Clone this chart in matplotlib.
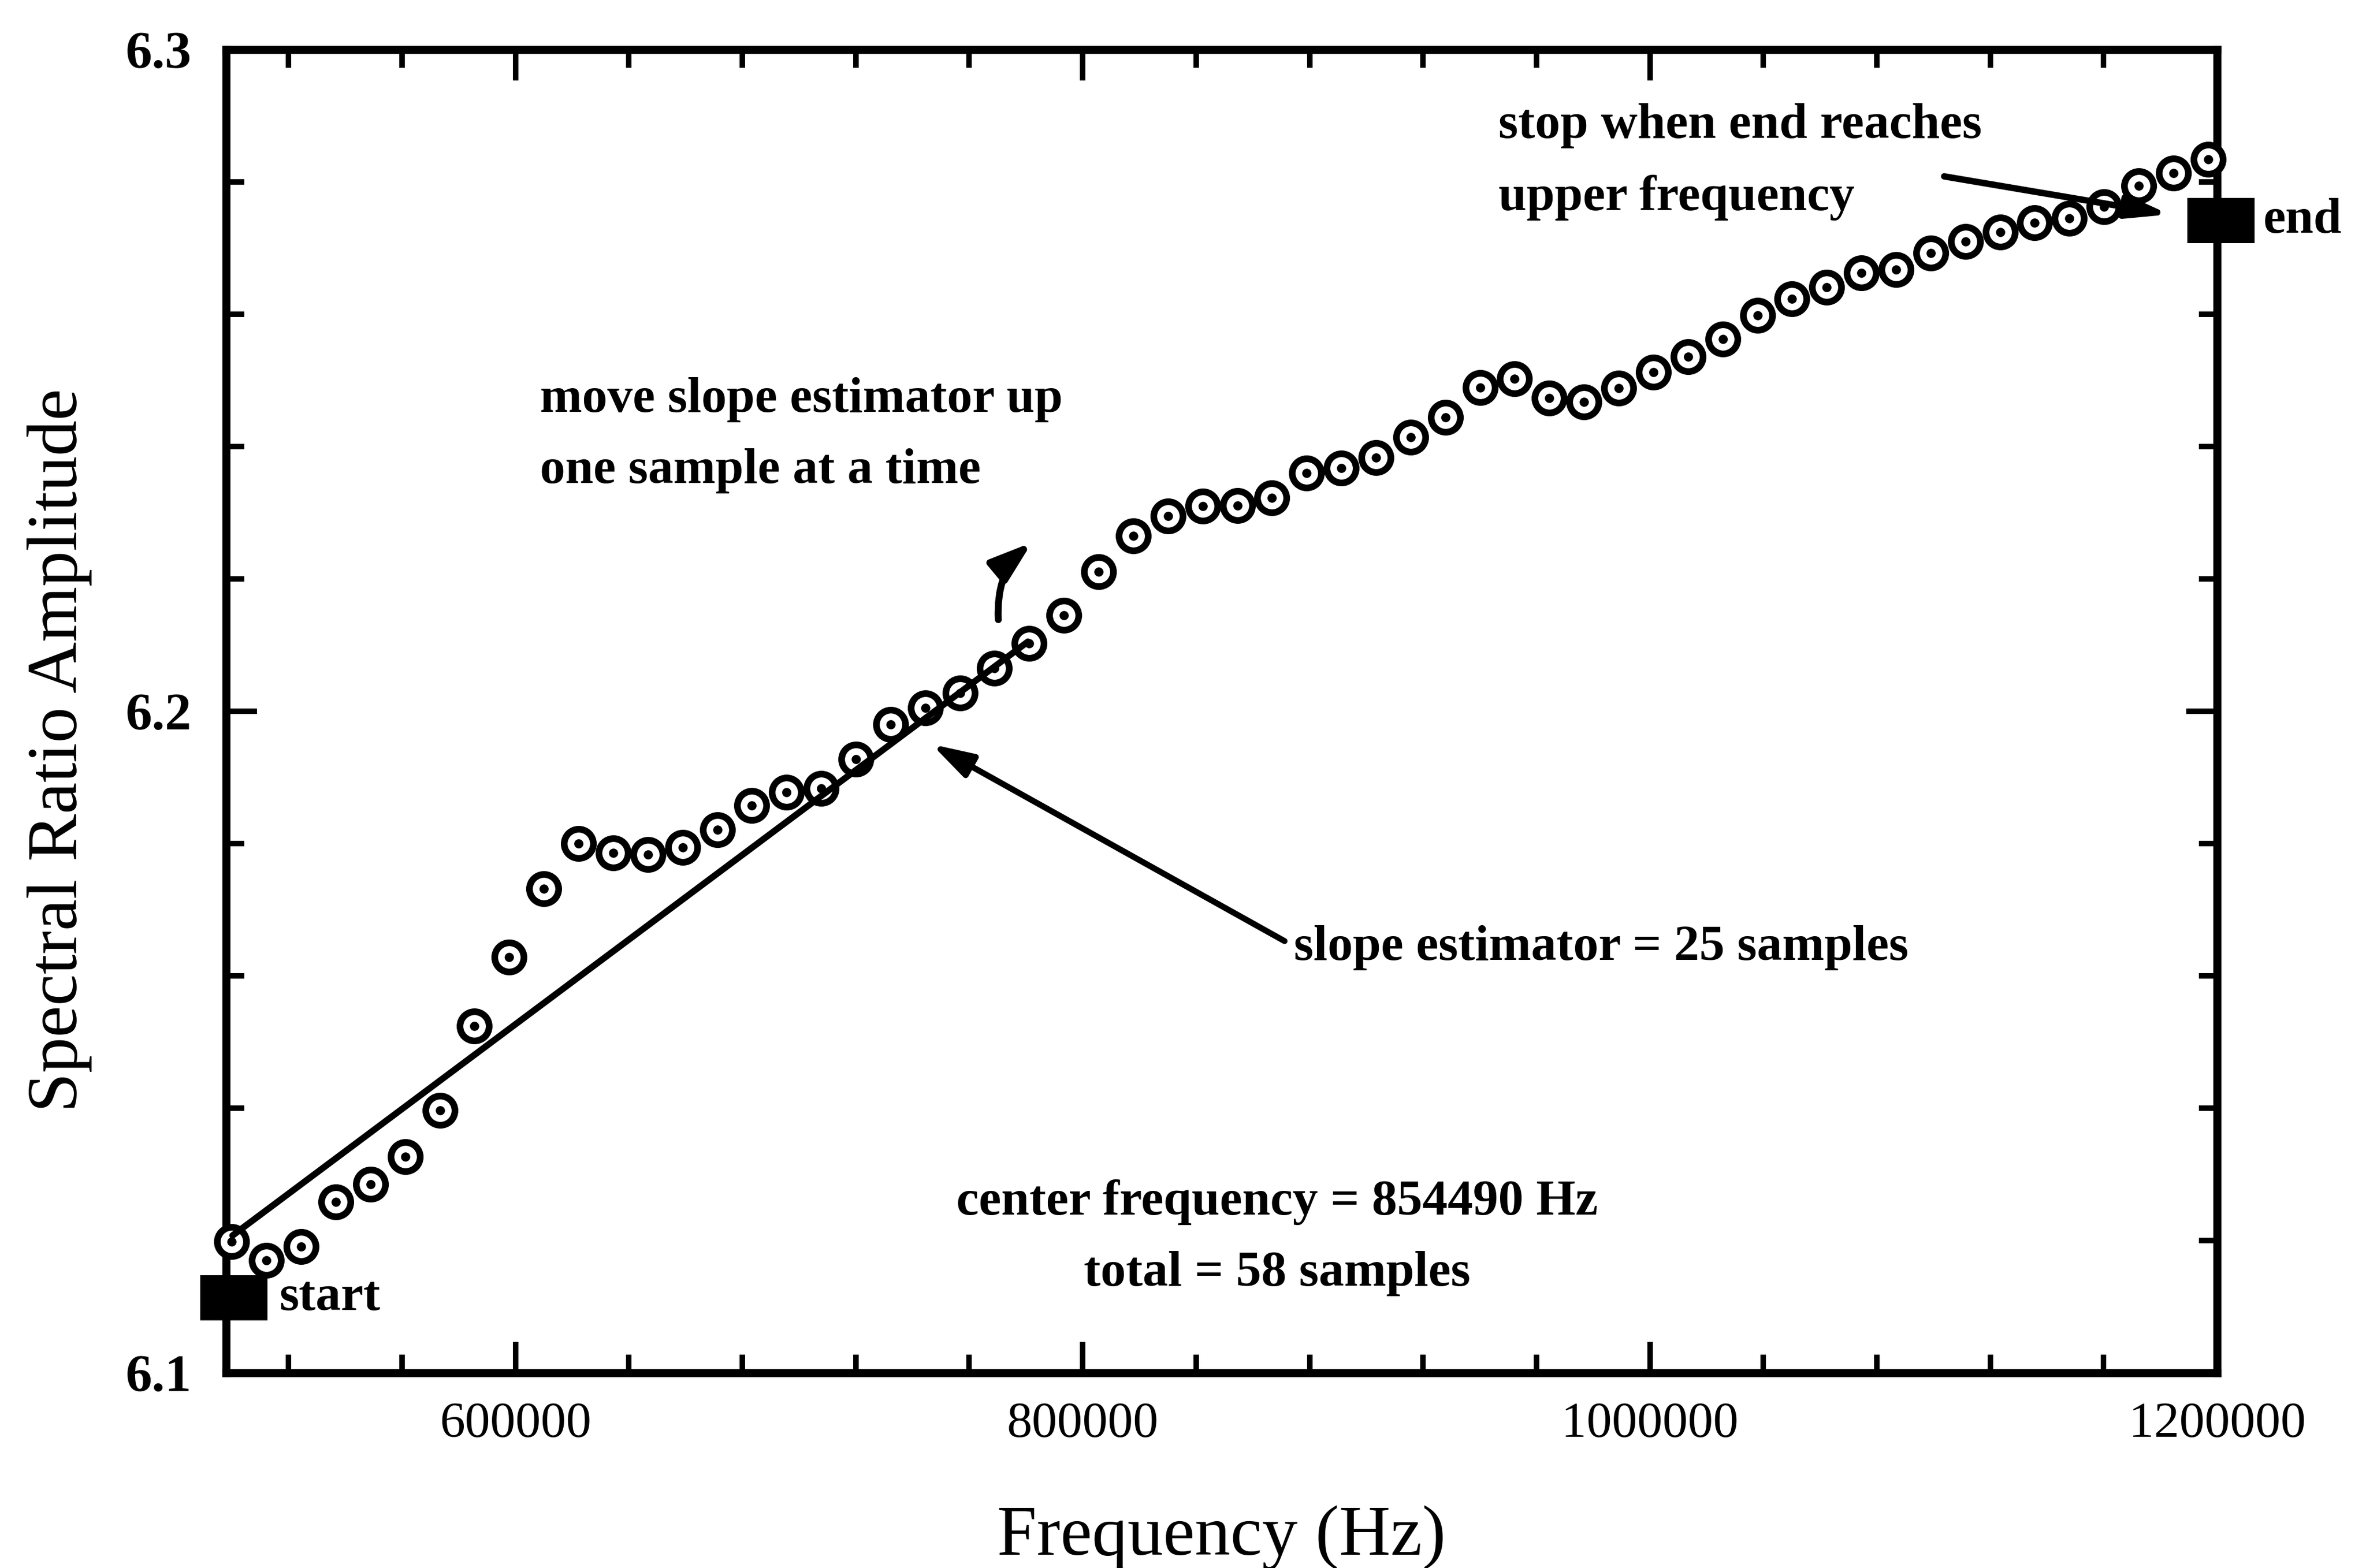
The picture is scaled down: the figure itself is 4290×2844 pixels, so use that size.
import matplotlib
matplotlib.use("Agg")
import matplotlib.pyplot as plt
from matplotlib.ticker import MultipleLocator, FormatStrFormatter
from matplotlib.patches import FancyArrowPatch

plt.rcParams['font.family'] = ['Liberation Serif', 'DejaVu Serif']

# ---------------- data ----------------
freq_hz = [500000, 512225, 524450, 536675, 548900, 561125, 573350, 585575,
           597800, 610025, 622250, 634475, 646700, 658925, 671150, 683375,
           695600, 707825, 720050, 732275, 744500, 756725, 768950, 781175,
           793400, 805625, 817850, 830075, 842300, 854525, 866750, 878975,
           891200, 903425, 915650, 927875, 940100, 952325, 964550, 976775,
           989000, 1001225, 1013450, 1025675, 1037900, 1050125, 1062350,
           1074575, 1086800, 1099025, 1111250, 1123475, 1135700, 1147925,
           1160150, 1172375, 1184600, 1196825]
amplitude = [6.1198, 6.1170, 6.1191, 6.1258, 6.1285, 6.1327, 6.1397, 6.1524,
             6.1628, 6.1732, 6.1800, 6.1786, 6.1783, 6.1794, 6.1821, 6.1857,
             6.1877, 6.1883, 6.1927, 6.1980, 6.2005, 6.2027, 6.2065, 6.2102,
             6.2145, 6.2211, 6.2265, 6.2295, 6.2310, 6.2311, 6.2322, 6.2360,
             6.2367, 6.2383, 6.2414, 6.2444, 6.2489, 6.2502, 6.2473, 6.2467,
             6.2488, 6.2512, 6.2536, 6.2562, 6.2598, 6.2623, 6.2641, 6.2662,
             6.2667, 6.2692, 6.2710, 6.2724, 6.2738, 6.2745, 6.2762, 6.2794,
             6.2813, 6.2834]

# slope estimator line (25-sample fit) endpoints
slope_x = [500240, 780670]
slope_y = [6.12075, 6.2105]

# start / end window markers
window_x = [500720, 1201370]
window_y = [6.11133, 6.27417]
window_labels = ["start", "end"]
window_label_x = [516670, 1216340]

xticks_major = [600000, 800000, 1000000, 1200000]
x_limits = (498000, 1200000)
y_limits = (6.1, 6.3)

# annotation texts and anchor positions (data coords)
txt_move = "move slope estimator up\none sample at a time"
txt_move_pos = (608650, 6.2417)
txt_slope = "slope estimator = 25 samples"
txt_slope_pos = (874470, 6.16425)
txt_center = "center frequency = 854490 Hz\ntotal = 58 samples"
txt_center_pos = (868450, 6.12042)
txt_stop = "stop when end reaches\nupper frequency"
txt_stop_pos = (946620, 6.28304)

# arrows: (tail, head)
arrow_slope = ((871170, 6.16525), (746710, 6.1950))
arrow_stop = ((1103740, 6.28083), (1183180, 6.27508))
arrow_move = ((770240, 6.21383), (782100, 6.2255))

# ---------------- figure ----------------
fig = plt.figure(figsize=(14.3, 9.48), dpi=300)
ax = fig.add_axes([0.0956, 0.1245, 0.8415, 0.8439])

ax.set_xlim(*x_limits)
ax.set_ylim(*y_limits)

# data markers: open circle with center dot
ax.plot(freq_hz, amplitude, linestyle='none', marker='o', markersize=12.7,
        markerfacecolor='white', markeredgecolor='black', markeredgewidth=2.9,
        clip_on=False, zorder=3)
ax.plot(freq_hz, amplitude, linestyle='none', marker='o', markersize=3.0,
        color='black', clip_on=False, zorder=3.1)

# slope estimator line
ax.plot(slope_x, slope_y, color='black', linewidth=2.8, solid_capstyle='round',
        zorder=5)

# start / end boxes
box_verts = [(-1.5, -1), (1.5, -1), (1.5, 1), (-1.5, 1), (-1.5, -1)]
ax.plot(window_x, window_y, linestyle='none', marker=box_verts, markersize=29.5,
        color='black', markeredgewidth=0, clip_on=False, zorder=6)
for lx, ly, lab in zip(window_label_x, window_y, window_labels):
    ax.text(lx, ly, lab, fontsize=22, fontweight='bold', ha='left', va='center',
            clip_on=False)

# annotation texts
LS = 1.75
ax.text(*txt_move_pos, txt_move, fontsize=22, fontweight='bold', ha='left',
        va='center', linespacing=LS)
ax.text(*txt_slope_pos, txt_slope, fontsize=22, fontweight='bold', ha='left',
        va='center')
ax.text(*txt_center_pos, txt_center, fontsize=22, fontweight='bold',
        ha='center', va='center', multialignment='center', linespacing=LS)
ax.text(*txt_stop_pos, txt_stop, fontsize=22, fontweight='bold', ha='left',
        va='center', linespacing=LS)

# arrows
def add_arrow(tail, head, hl, hw, lw, conn="arc3,rad=0"):
    a = FancyArrowPatch(tail, head, arrowstyle=f"-|>,head_length={hl},head_width={hw}",
                        mutation_scale=1, color='black', linewidth=lw,
                        shrinkA=0, shrinkB=0, connectionstyle=conn,
                        capstyle='round', zorder=6)
    ax.add_patch(a)

add_arrow(*arrow_slope, hl=15, hw=4.5, lw=2.6)
add_arrow(*arrow_stop, hl=15, hw=4.0, lw=2.8)
add_arrow(*arrow_move, hl=15, hw=5.0, lw=3.0, conn="arc3,rad=-0.25")

# axes styling
for sp in ax.spines.values():
    sp.set_linewidth(3.5)
ax.xaxis.set_major_locator(MultipleLocator(200000))
ax.xaxis.set_minor_locator(MultipleLocator(40000))
ax.yaxis.set_major_locator(MultipleLocator(0.1))
ax.yaxis.set_minor_locator(MultipleLocator(0.02))
ax.xaxis.set_major_formatter(FormatStrFormatter('%d'))
ax.yaxis.set_major_formatter(FormatStrFormatter('%.1f'))
ax.set_xticks(xticks_major)
ax.tick_params(which='both', direction='in', top=True, right=True, width=2.4)
ax.tick_params(which='major', length=13.5)
ax.tick_params(which='minor', length=8)
ax.tick_params(axis='x', which='major', labelsize=22, pad=12.5)
ax.tick_params(axis='y', which='major', labelsize=23, pad=15)
for lab in ax.get_yticklabels():
    lab.set_fontweight('bold')

ax.set_xlabel("Frequency (Hz)", fontsize=31)
ax.set_ylabel("Spectral Ratio Amplitude", fontsize=31)
ax.xaxis.set_label_coords(0.5, -0.100)
ax.yaxis.set_label_coords(-0.0673, 0.4704)

fig.savefig("out.png", dpi=300)
